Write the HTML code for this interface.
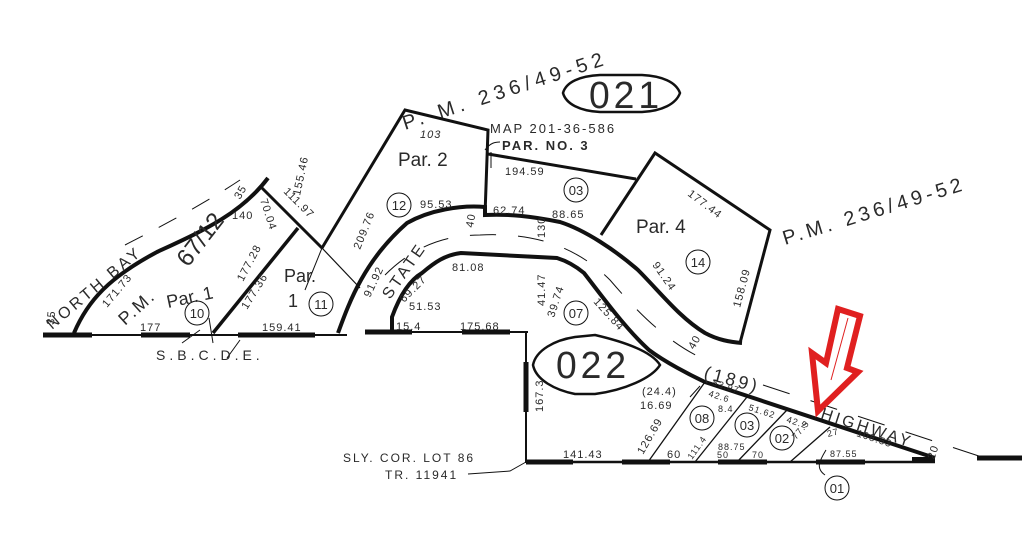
<!DOCTYPE html>
<html><head><meta charset="utf-8">
<style>
html,body{margin:0;padding:0;background:#fff;}
svg{display:block;}
text{font-family:"Liberation Sans",sans-serif;fill:#2a2a2a;}
</style></head>
<body>
<svg width="1024" height="549" viewBox="0 0 1024 549" xmlns="http://www.w3.org/2000/svg">
<rect width="1024" height="549" fill="#fff"/>
<g fill="none" stroke="#111" stroke-linecap="butt">
  <line x1="43" y1="335" x2="347" y2="335" stroke-width="2"/>
  <line x1="43" y1="335" x2="92" y2="335" stroke-width="5"/>
  <line x1="141" y1="335" x2="190" y2="335" stroke-width="5"/>
  <line x1="238" y1="335" x2="315" y2="335" stroke-width="5"/>
  <path d="M74,333 C88,300 110,277 157,252 C200,232 240,215 268,178" stroke-width="4"/>
  <line x1="262" y1="188" x2="322" y2="248" stroke-width="3"/>
  <line x1="322" y1="248" x2="360" y2="288" stroke-width="1.2"/>
  <line x1="213" y1="333" x2="298" y2="228" stroke-width="3.5"/>
  <polyline points="322,248 405,110 488,130 485,215" stroke-width="3"/>
  <line x1="322" y1="248" x2="305" y2="290" stroke-width="1"/>
  <line x1="488" y1="154" x2="636" y2="179" stroke-width="3"/>
  <polyline points="601,235 655,153 770,230 740,343" stroke-width="3"/>
  <path d="M338,333 C350,300 365,260 407,223 C430,210 460,205 485,207 L485,215 C510,214 530,216 560,222 C585,230 615,250 638,270 C660,292 680,318 705,333 C718,340 730,342 742,343" stroke-width="4"/>
  <path d="M392,330 L392,317 C400,295 410,280 422,273 C435,262 445,255 461,253 L557,258 C570,262 578,268 584,273 C605,300 625,328 649,350 C665,362 690,375 705,382 L935,458" stroke-width="4"/>
  <path d="M385,275 C410,250 440,235 480,235 C540,232 580,250 610,280 C640,315 670,345 710,362" stroke-width="1" stroke-dasharray="26,22"/>
  <path d="M763,385 L985,458" stroke-width="1" stroke-dasharray="28,22"/>
  <path d="M125,245 C170,222 210,200 240,180" stroke-width="1" stroke-dasharray="20,18"/>
  <line x1="365" y1="332" x2="528" y2="332" stroke-width="2"/>
  <line x1="365" y1="332" x2="412" y2="332" stroke-width="5"/>
  <line x1="462" y1="332" x2="510" y2="332" stroke-width="5"/>
  <line x1="526" y1="332" x2="526" y2="463" stroke-width="2"/>
  <line x1="526" y1="362" x2="526" y2="412" stroke-width="5"/>
  <line x1="526" y1="462" x2="935" y2="462" stroke-width="2.5"/>
  <line x1="526" y1="462" x2="573" y2="462" stroke-width="5"/>
  <line x1="622" y1="462" x2="670" y2="462" stroke-width="5"/>
  <line x1="718" y1="462" x2="767" y2="462" stroke-width="5"/>
  <line x1="816" y1="462" x2="865" y2="462" stroke-width="5"/>
  <line x1="912" y1="460" x2="935" y2="460" stroke-width="6"/>
  <line x1="977" y1="458" x2="1022" y2="458" stroke-width="5"/>
  <line x1="648" y1="462" x2="705" y2="382" stroke-width="1.3"/>
  <line x1="695" y1="462" x2="747" y2="397" stroke-width="1.3"/>
  <line x1="737" y1="462" x2="787" y2="410" stroke-width="1.3"/>
  <line x1="790" y1="462" x2="830" y2="427" stroke-width="1.3"/>
  <path d="M563,93 C566,82 580,76 600,75 L642,75 C662,76 676,82 680,93 C676,104 662,111 642,112 L600,112 C580,111 566,104 563,93Z" stroke-width="2.5"/>
  <path d="M533,365 C536,350 555,340 575,337 L595,335 C625,342 652,352 660,365 C652,378 625,390 595,394 L575,394 C555,390 536,380 533,365Z" stroke-width="2.5"/>
  <circle cx="197" cy="313" r="12" stroke-width="1"/>
  <circle cx="321" cy="304" r="12" stroke-width="1"/>
  <circle cx="399" cy="205" r="12" stroke-width="1"/>
  <circle cx="576" cy="190" r="12" stroke-width="1"/>
  <circle cx="698" cy="262" r="12" stroke-width="1"/>
  <circle cx="576" cy="313" r="12" stroke-width="1"/>
  <circle cx="702" cy="418" r="12" stroke-width="1"/>
  <circle cx="747" cy="425" r="12" stroke-width="1"/>
  <circle cx="782" cy="438" r="12" stroke-width="1"/>
  <circle cx="837" cy="488" r="12" stroke-width="1"/>
  <path d="M182,343 L200,330 M213,343 L209,318" stroke-width="1"/>
  <polyline points="227,358 240,340" stroke-width="1"/>
  <path d="M485,150 C490,143 495,142 500,142 M491,152 L491,168" stroke-width="1"/>
  <path d="M468,474 L510,471 L526,462" stroke-width="1"/>
  <path d="M825,475 C815,468 820,460 826,450" stroke-width="1"/>
  <path d="M700,386 L690,397" stroke-width="1"/>
</g>
<polygon points="838,309 860,316 847,368 858,372 818,411 812,353 826,363" fill="#fff" stroke="#e02020" stroke-width="6" stroke-linejoin="miter"/>
<line x1="848" y1="318" x2="831" y2="380" stroke="#e02020" stroke-width="1"/>

<g font-size="13">
  <text x="589" y="108" font-size="38" letter-spacing="4" textLength="74" lengthAdjust="spacingAndGlyphs">021</text>
  <text x="556" y="378" font-size="38" letter-spacing="4" textLength="74" lengthAdjust="spacingAndGlyphs">022</text>
  <text transform="translate(405,130) rotate(-18)" font-size="20" letter-spacing="5">P. M. 236/49-52</text>
  <text transform="translate(785,245) rotate(-17)" font-size="20" letter-spacing="4">P.M. 236/49-52</text>
  <text x="490" y="133" font-size="13" letter-spacing="2">MAP 201-36-586</text>
  <text x="502" y="150" font-size="13" letter-spacing="2" font-weight="bold">PAR. NO. 3</text>
  <text x="398" y="166" font-size="19">Par. 2</text>
  <text x="636" y="233" font-size="19">Par. 4</text>
  <text transform="translate(125,326) rotate(-42)" font-size="18" letter-spacing="2">P.M.</text>
  <text transform="translate(168,308) rotate(-12)" font-size="18">Par. 1</text>
  <text transform="translate(188,268) rotate(-52)" font-size="24">67/12</text>
  <text x="284" y="282" font-size="18">Par.</text>
  <text x="288" y="307" font-size="18">1</text>
  <text transform="translate(52,330) rotate(-40)" font-size="16" letter-spacing="3">NORTH BAY</text>
  <text transform="translate(390,300) rotate(-55)" font-size="16" letter-spacing="3">STATE</text>
  <text transform="translate(703,378) rotate(15)" font-size="18" letter-spacing="3">(189)</text>
  <text transform="translate(820,418) rotate(18)" font-size="16" letter-spacing="3">HIGHWAY</text>
  <text x="156" y="360" font-size="14" letter-spacing="4">S.B.C.D.E.</text>
  <text x="343" y="462" font-size="12" letter-spacing="2">SLY. COR. LOT 86</text>
  <text x="385" y="479" font-size="12" letter-spacing="2">TR. 11941</text>
  <g font-size="13" text-anchor="middle">
    <text x="197" y="318">10</text><text x="321" y="309">11</text><text x="399" y="210">12</text>
    <text x="576" y="195">03</text><text x="698" y="267">14</text><text x="576" y="318">07</text>
    <text x="702" y="423">08</text><text x="747" y="430">03</text><text x="782" y="443">02</text>
    <text x="837" y="493">01</text>
  </g>
  <g font-size="11" letter-spacing="1">
    <text transform="translate(300,196) rotate(-78)">155.46</text>
    <text transform="translate(283,192) rotate(45)">111.97</text>
    <text transform="translate(240,200) rotate(-60)">35</text>
    <text transform="translate(260,200) rotate(72)">70.04</text>
    <text x="232" y="219">140</text>
    <text transform="translate(243,282) rotate(-62)">177.28</text>
    <text transform="translate(247,310) rotate(-58)">177.36</text>
    <text transform="translate(107,308) rotate(-50)">171.73</text>
    <text x="140" y="331">177</text>
    <text x="262" y="331">159.41</text>
    <text transform="translate(54,325) rotate(-85)">35</text>
    <text transform="translate(360,250) rotate(-68)">209.76</text>
    <text x="420" y="138" font-style="italic">103</text>
    <text x="505" y="175">194.59</text>
    <text x="493" y="214">62.74</text>
    <text x="552" y="218">88.65</text>
    <text x="420" y="208">95.53</text>
    <text transform="translate(370,298) rotate(-65)">91.92</text>
    <text transform="translate(473,228) rotate(-80)">40</text>
    <text transform="translate(545,238) rotate(-90)">130</text>
    <text transform="translate(687,195) rotate(37)">177.44</text>
    <text transform="translate(652,265) rotate(55)">91.24</text>
    <text transform="translate(740,308) rotate(-75)">158.09</text>
    <text transform="translate(404,303) rotate(-45)">69.27</text>
    <text x="452" y="271">81.08</text>
    <text x="409" y="310">51.53</text>
    <text x="396" y="330">15.4</text>
    <text x="460" y="330">175.68</text>
    <text transform="translate(545,306) rotate(-90)">41.47</text>
    <text transform="translate(554,318) rotate(-72)">39.74</text>
    <text transform="translate(593,302) rotate(48)">125.84</text>
    <text transform="translate(694,350) rotate(-60)">40</text>
    <text transform="translate(543,412) rotate(-90)">167.3</text>
    <text x="563" y="458">141.43</text>
    <text x="642" y="395">(24.4)</text>
    <text x="640" y="409">16.69</text>
    <text transform="translate(643,455) rotate(-60)">126.69</text>
    <text x="667" y="458">60</text>
    <text transform="translate(692,460) rotate(-55)" font-size="9">111.4</text>
    <text x="718" y="450" font-size="9">88.75</text>
    <text x="717" y="458" font-size="9">50</text>
    <text x="752" y="458" font-size="9">70</text>
    <text x="830" y="457" font-size="9">87.55</text>
    <text transform="translate(856,436) rotate(18)" font-size="10">108.53</text>
    <text transform="translate(712,385) rotate(18)" font-size="9">53.97</text>
    <text transform="translate(708,396) rotate(18)" font-size="9">42.6</text>
    <text x="718" y="412" font-size="9">8.4</text>
    <text transform="translate(748,410) rotate(18)" font-size="9">51.62</text>
    <text transform="translate(786,422) rotate(18)" font-size="9">42.2</text>
    <text transform="translate(796,440) rotate(-50)" font-size="9">77.5</text>
    <text transform="translate(828,437) rotate(-15)" font-size="9">27</text>
    <text transform="translate(934,460) rotate(-70)">20</text>
  </g>
</g>
</svg>
</body></html>
